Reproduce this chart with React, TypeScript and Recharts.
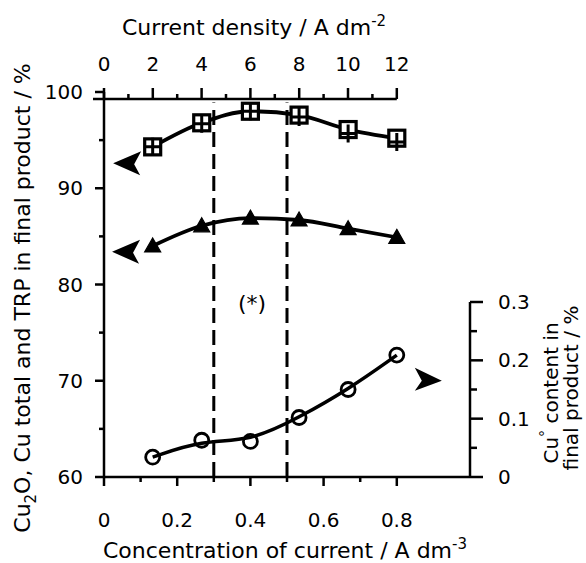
import React from "react";
import {
  ComposedChart,
  Line,
  XAxis,
  YAxis,
  ReferenceLine,
  ReferenceDot,
} from "recharts";

// concentration of current (A dm-3) for the six runs; current density = 15 x this
const concentration = [0.133, 0.267, 0.4, 0.533, 0.667, 0.8];
const cuTotal = [94.3, 96.8, 98.0, 97.6, 96.1, 95.2];
const trp = [94.3, 96.7, 98.0, 97.4, 95.7, 94.8];
const cu2o = [84.0, 86.1, 86.9, 86.7, 85.8, 84.9];
const cuMetal = [0.034, 0.063, 0.061, 0.102, 0.15, 0.209];

const concTicks = [0, 0.1, 0.2, 0.3, 0.4, 0.5, 0.6, 0.7, 0.8];
const concLabels = [0, 0.2, 0.4, 0.6, 0.8];
const densityTicks = [0, 1, 2, 3, 4, 5, 6, 7, 8, 9, 10, 11, 12];
const densityLabels = [0, 2, 4, 6, 8, 10, 12];
const leftTicks = [60, 65, 70, 75, 80, 85, 90, 95, 100];
const leftLabels = [60, 70, 80, 90, 100];
const rightTicks = [0, 0.05, 0.1, 0.15, 0.2, 0.25, 0.3];
const rightLabels = [0, 0.1, 0.2, 0.3];
const dashedAt = [0.3, 0.5];

const FONT = "'DejaVu Sans', sans-serif";
const INK = "#000";

const data = concentration.map((c, i) => ({
  c,
  density: c * 15,
  cuTotal: cuTotal[i],
  trp: trp[i],
  cu2o: cu2o[i],
  cuMetal: cuMetal[i],
}));

function BottomTick({ x, y, payload }: any) {
  const major = concLabels.includes(payload.value);
  return (
    <g>
      <line x1={x} y1={y} x2={x} y2={y + (major ? 9 : 5)} stroke={INK} strokeWidth={2.5} />
      {major && (
        <text x={x} y={y + 50} textAnchor="middle" fontSize={20} fontFamily={FONT} fill={INK}>
          {String(payload.value)}
        </text>
      )}
    </g>
  );
}

function TopTick({ x, y, payload }: any) {
  const major = densityLabels.includes(payload.value);
  const base = y + 7;
  return (
    <g>
      <line x1={x} y1={base} x2={x} y2={base - (major ? 11 : 5)} stroke={INK} strokeWidth={2.5} />
      {major && (
        <text x={x} y={y - 21} textAnchor="middle" fontSize={20} fontFamily={FONT} fill={INK}>
          {String(payload.value)}
        </text>
      )}
    </g>
  );
}

function LeftTick({ x, y, payload }: any) {
  const major = leftLabels.includes(payload.value);
  return (
    <g>
      <line x1={x} y1={y} x2={x - (major ? 9 : 5)} y2={y} stroke={INK} strokeWidth={2.5} />
      {major && (
        <text x={x - 21} y={y + 7} textAnchor="end" fontSize={20} fontFamily={FONT} fill={INK}>
          {String(payload.value)}
        </text>
      )}
    </g>
  );
}

function RightTick({ x, y, payload }: any) {
  const major = rightLabels.includes(payload.value);
  return (
    <g>
      <line x1={x} y1={y} x2={x + (major ? 13 : 7)} y2={y} stroke={INK} strokeWidth={2.5} />
      {major && (
        <text x={x + 28} y={y + 7} textAnchor="start" fontSize={20} fontFamily={FONT} fill={INK}>
          {String(payload.value)}
        </text>
      )}
    </g>
  );
}

const squareDot = (p: any) => (
  <rect
    key={`sq-${p.index}`}
    x={p.cx - 8}
    y={p.cy - 8}
    width={16}
    height={16}
    fill="#fff"
    stroke={INK}
    strokeWidth={3.2}
  />
);

const plusDot = (p: any) => (
  <path
    key={`pl-${p.index}`}
    d={`M${p.cx - 8},${p.cy}H${p.cx + 8}M${p.cx},${p.cy - 9}V${p.cy + 9}`}
    stroke={INK}
    strokeWidth={3}
    fill="none"
  />
);

const triangleDot = (p: any) => (
  <path
    key={`tr-${p.index}`}
    d={`M${p.cx},${p.cy - 8}L${p.cx + 8},${p.cy + 6}L${p.cx - 8},${p.cy + 6}Z`}
    fill={INK}
    stroke={INK}
    strokeWidth={1.2}
  />
);

const circleDot = (p: any) => (
  <circle
    key={`ci-${p.index}`}
    cx={p.cx}
    cy={p.cy}
    r={7}
    fill="none"
    stroke={INK}
    strokeWidth={2.8}
  />
);

// filled arrowheads showing which axis each curve belongs to
const arrowLeft = (p: any) => (
  <path
    d={`M${p.cx},${p.cy}L${p.cx + 28},${p.cy - 12}L${p.cx + 21},${p.cy + 1}L${p.cx + 27},${p.cy + 12}Z`}
    fill={INK}
  />
);

const arrowRight = (p: any) => (
  <path
    d={`M${p.cx},${p.cy}L${p.cx - 27},${p.cy - 13}L${p.cx - 20},${p.cy}L${p.cx - 27},${p.cy + 10}Z`}
    fill={INK}
  />
);

export default function App() {
  return (
    <div style={{ position: "absolute", left: 0, top: 0, width: 586, height: 563, background: "#fff" }}>
      <ComposedChart
        width={586}
        height={563}
        data={data}
        margin={{ top: 32, right: 56, bottom: 36, left: 44 }}
      >
        <XAxis
          xAxisId="conc"
          dataKey="c"
          type="number"
          domain={[0, 1]}
          allowDataOverflow
          ticks={concTicks}
          height={50}
          tickSize={0}
          tickMargin={0}
          tickLine={false}
          tick={<BottomTick />}
          axisLine={{ stroke: INK, strokeWidth: 2.5 }}
          interval={0}
        />
        <XAxis
          xAxisId="density"
          dataKey="density"
          orientation="top"
          type="number"
          domain={[0, 15]}
          allowDataOverflow
          ticks={densityTicks}
          height={60}
          tickSize={0}
          tickMargin={0}
          tickLine={false}
          axisLine={false}
          tick={<TopTick />}
          interval={0}
        />
        <YAxis
          yAxisId="left"
          type="number"
          domain={[60, 100]}
          allowDataOverflow
          ticks={leftTicks}
          width={60}
          tickSize={0}
          tickMargin={0}
          tickLine={false}
          tick={<LeftTick />}
          axisLine={{ stroke: INK, strokeWidth: 2.5 }}
          interval={0}
        />
        <YAxis
          yAxisId="right"
          orientation="right"
          type="number"
          domain={[0, 0.66]}
          allowDataOverflow
          ticks={rightTicks}
          width={60}
          tickSize={0}
          tickMargin={0}
          tickLine={false}
          axisLine={false}
          tick={<RightTick />}
          interval={0}
        />

        {/* top axis line, drawn only over the current density range */}
        <ReferenceLine
          xAxisId="conc"
          yAxisId="left"
          segment={[{ x: -0.03, y: 99.27 }, { x: 0.8, y: 99.27 }]}
          stroke={INK}
          strokeWidth={2.5}
          ifOverflow="visible"
        />
        {/* right axis line, only 0 to 0.3 */}
        <ReferenceLine
          xAxisId="conc"
          yAxisId="right"
          segment={[{ x: 1, y: 0 }, { x: 1, y: 0.3 }]}
          stroke={INK}
          strokeWidth={2.5}
          ifOverflow="visible"
        />
        {dashedAt.map((v) => (
          <ReferenceLine
            key={`dash-${v}`}
            xAxisId="conc"
            yAxisId="left"
            segment={[{ x: v, y: 60 }, { x: v, y: 98.9 }]}
            stroke={INK}
            strokeWidth={3}
            strokeDasharray="15 7"
          />
        ))}

        <Line
          xAxisId="conc"
          yAxisId="left"
          dataKey="cu2o"
          type="monotone"
          stroke={INK}
          strokeWidth={3.8}
          dot={triangleDot}
          isAnimationActive={false}
        />
        <Line
          xAxisId="conc"
          yAxisId="left"
          dataKey="cuTotal"
          type="monotone"
          stroke={INK}
          strokeWidth={3.8}
          dot={squareDot}
          isAnimationActive={false}
        />
        <Line
          xAxisId="conc"
          yAxisId="left"
          dataKey="trp"
          stroke="none"
          dot={plusDot}
          isAnimationActive={false}
        />
        <Line
          xAxisId="conc"
          yAxisId="right"
          dataKey="cuMetal"
          type="basis"
          stroke={INK}
          strokeWidth={3.5}
          dot={circleDot}
          isAnimationActive={false}
        />

        <ReferenceDot xAxisId="conc" yAxisId="left" x={0.025} y={92.6} r={0} shape={arrowLeft} ifOverflow="visible" />
        <ReferenceDot xAxisId="conc" yAxisId="left" x={0.022} y={83.4} r={0} shape={arrowLeft} ifOverflow="visible" />
        <ReferenceDot xAxisId="conc" yAxisId="right" x={0.923} y={0.165} r={0} shape={arrowRight} ifOverflow="visible" />
      </ComposedChart>

      <svg
        width={586}
        height={563}
        style={{ position: "absolute", left: 0, top: 0, pointerEvents: "none" }}
        fontFamily={FONT}
        fill={INK}
      >
        <text x={122} y={35} fontSize={22}>
          Current density / A dm<tspan dy={-9} fontSize={15}>-2</tspan>
        </text>
        <text x={103} y={558} fontSize={22}>
          Concentration of current / A dm<tspan dy={-9} fontSize={15}>-3</tspan>
        </text>
        <text transform="translate(30,298) rotate(-90)" textAnchor="middle" fontSize={22}>
          Cu<tspan dy={6} fontSize={15}>2</tspan>
          <tspan dy={-6}>O, Cu total and TRP in final product / %</tspan>
        </text>
        <text transform="translate(558,393) rotate(-90)" textAnchor="middle" fontSize={20}>
          Cu<tspan dy={-8} fontSize={14}>°</tspan>
          <tspan dy={8}> content in</tspan>
        </text>
        <text transform="translate(578,388) rotate(-90)" textAnchor="middle" fontSize={20}>
          final product / %
        </text>
        <text x={252} y={311} textAnchor="middle" fontSize={22}>
          (*)
        </text>
      </svg>
    </div>
  );
}
